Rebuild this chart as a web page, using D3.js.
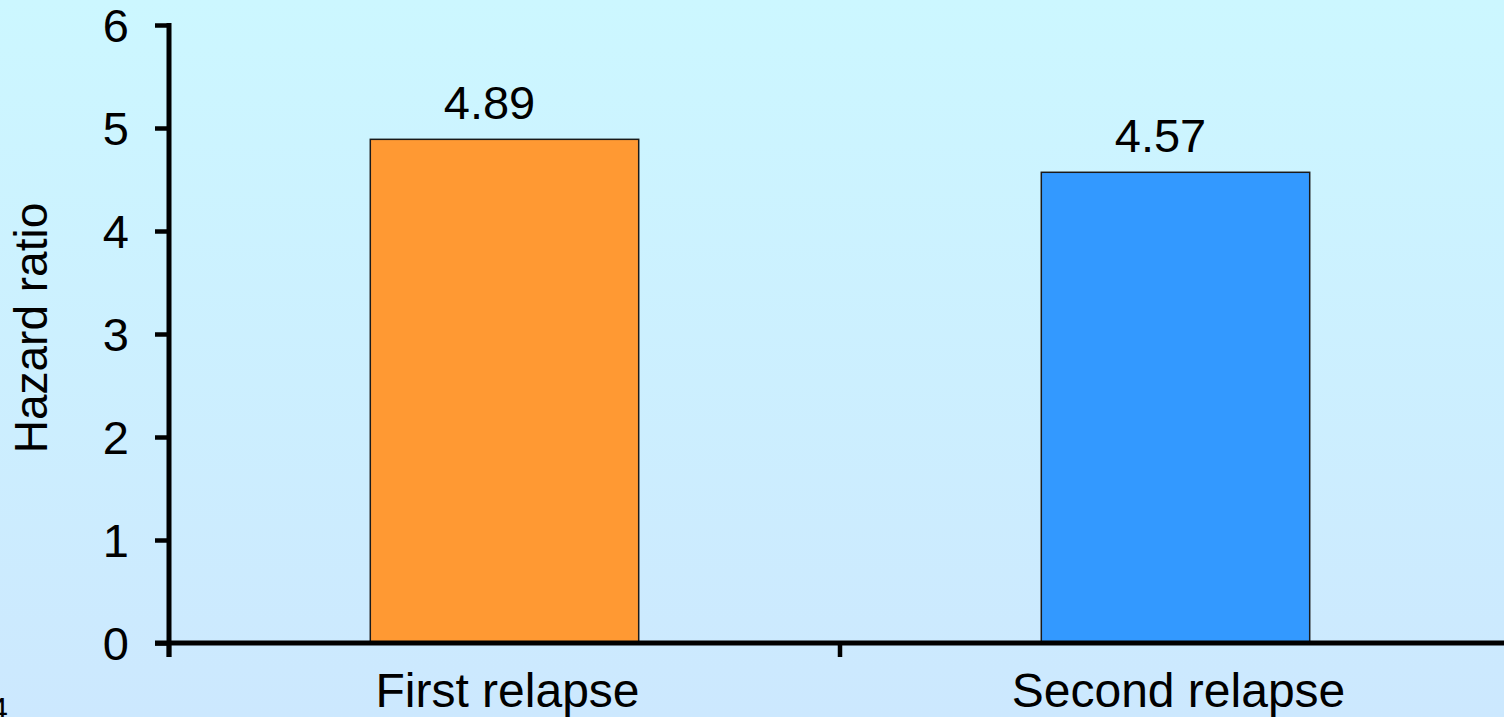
<!DOCTYPE html>
<html>
<head>
<meta charset="utf-8">
<script src="https://cdn.jsdelivr.net/npm/d3@7/dist/d3.min.js"></script>
<style>
  html, body { margin: 0; padding: 0; overflow: hidden; }
  svg { display: block; }
  text { font-family: "Liberation Sans", Arial, sans-serif; fill: #000; }
</style>
</head>
<body>
<script>
// Hazard ratio by relapse
const categories = ["First relapse", "Second relapse"];
const values = [4.89, 4.57];
const barColors = ["#FF9933", "#3399FF"];
const yTicks = [0, 1, 2, 3, 4, 5, 6];
const yTitle = "Hazard ratio";
const pageNumber = "4";

const W = 1504, H = 717;
const svg = d3.select("body").append("svg").attr("width", W).attr("height", H);

// soft cyan-to-blue backdrop
const defs = svg.append("defs");
const grad = defs.append("linearGradient").attr("id", "bg")
  .attr("x1", 0).attr("y1", 0).attr("x2", 0).attr("y2", 1);
grad.append("stop").attr("offset", "0%").attr("stop-color", "#CCF7FF");
grad.append("stop").attr("offset", "100%").attr("stop-color", "#CCE8FE");
svg.append("rect").attr("width", W).attr("height", H).attr("fill", "url(#bg)");

const x0 = 169, yBase = 643, yTop = 25;
const slot = d3.scaleBand().domain(categories).range([x0, x0 + 2 * 671]).padding(0);
const barW = slot.bandwidth() * 0.4;
const y = d3.scaleLinear().domain([0, 6]).range([yBase, yTop]);

// bars
svg.append("g").selectAll("rect").data(categories).join("rect")
  .attr("x", d => slot(d) + slot.bandwidth() / 2 - barW / 2)
  .attr("y", (d, i) => y(values[i]))
  .attr("width", barW)
  .attr("height", (d, i) => y(0) - y(values[i]))
  .attr("fill", (d, i) => barColors[i])
  .attr("stroke", "#1a1a1a")
  .attr("stroke-width", 1.5);

// value labels
svg.append("g").selectAll("text").data(categories).join("text")
  .attr("x", d => slot(d) + slot.bandwidth() / 2 - 15)
  .attr("y", (d, i) => y(values[i]) - 20)
  .attr("text-anchor", "middle")
  .attr("font-size", 47)
  .text((d, i) => values[i].toFixed(2));

// y axis
const yAxis = d3.axisLeft(y).tickValues(yTicks).tickSize(14).tickSizeOuter(0).tickPadding(26)
  .tickFormat(d3.format("d"));
const gy = svg.append("g").attr("transform", `translate(${x0},0)`).call(yAxis);
gy.select(".domain").attr("stroke", "#000").attr("stroke-width", 5)
  .attr("d", `M0,${yTop - 2}V${yBase + 14}`);
gy.selectAll(".tick line").attr("stroke", "#000").attr("stroke-width", 4.5);
gy.selectAll(".tick text").attr("font-size", 47).attr("dy", "0.36em")
  .style("font-family", "'Liberation Sans', Arial, sans-serif").attr("fill", "#000");

// x axis baseline with slot-boundary ticks
svg.append("line").attr("x1", x0 - 14).attr("x2", W).attr("y1", yBase).attr("y2", yBase)
  .attr("stroke", "#000").attr("stroke-width", 5);
const bounds = categories.map(c => slot(c));
svg.append("g").selectAll("line").data(bounds).join("line")
  .attr("x1", d => d).attr("x2", d => d)
  .attr("y1", yBase).attr("y2", yBase + 14)
  .attr("stroke", "#000").attr("stroke-width", 4.5);

// category labels
svg.append("g").selectAll("text").data(categories).join("text")
  .attr("x", d => slot(d) + slot.bandwidth() / 2 + 3)
  .attr("y", 707)
  .attr("text-anchor", "middle")
  .attr("font-size", 48)
  .text(d => d);

// y title
svg.append("text")
  .attr("transform", `translate(47,${(yTop + yBase) / 2 - 6}) rotate(-90)`)
  .attr("text-anchor", "middle")
  .attr("font-size", 46)
  .text(yTitle);

// slide number, sitting at the page's bottom-left corner
svg.append("text").attr("x", -10).attr("y", 720).attr("font-size", 32).text(pageNumber);
</script>
</body>
</html>
